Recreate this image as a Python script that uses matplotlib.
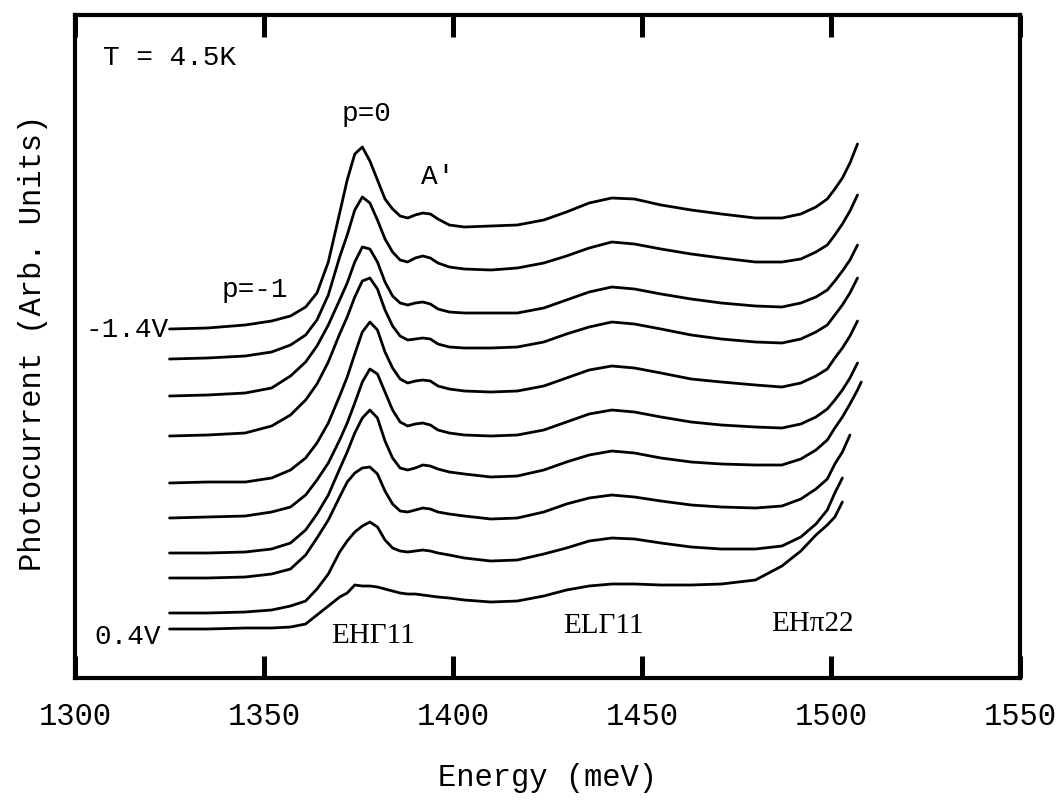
import numpy as np
import matplotlib
matplotlib.use('Agg')
import matplotlib.pyplot as plt

nan = np.nan

# photon energy grid (meV) shared by all spectra
energy = [1325, 1335, 1345, 1352, 1357, 1361, 1364, 1367, 1370, 1372, 1374, 1376,
          1378, 1380, 1382, 1384, 1386, 1388, 1390, 1392, 1394, 1396, 1399, 1403,
          1410, 1417, 1424, 1430, 1436, 1442, 1448, 1455, 1463, 1471, 1480, 1487,
          1492, 1496, 1499, 1501, 1503, 1505, 1507, 1508]

# photocurrent traces (arb. units, already offset), top = -1.4V ... bottom = 0.4V
pc_1 = [351, 352, 355, 359, 364, 373, 387, 418, 467, 500, 526, 533, 519, 500, 481, 471, 464, 462,
        465, 467, 466, 461, 455, 453, 454, 455, 460, 468, 477, 482, 481, 475, 470, 466, 462, 462,
        466, 473, 481, 491, 502, 517, 536, nan]
pc_2 = [321, 322, 324, 328, 335, 345, 360, 385, 423, 445, 470, 483, 477, 460, 441, 428, 420, 418,
        422, 424, 422, 417, 413, 411, 410, 412, 417, 424, 432, 438, 436, 431, 426, 422, 418, 418,
        421, 428, 435, 445, 456, 469, 485, nan]
pc_3 = [284, 285, 287, 292, 304, 318, 334, 355, 380, 397, 418, 433, 431, 418, 398, 384, 377, 375,
        377, 378, 376, 371, 368, 367, 367, 367, 372, 380, 388, 393, 391, 386, 381, 377, 374, 373,
        377, 383, 390, 399, 409, 420, 435, nan]
pc_4 = [244, 245, 247, 254, 265, 280, 296, 318, 346, 363, 383, 399, 402, 391, 370, 354, 344, 340,
        341, 342, 341, 336, 333, 332, 332, 333, 338, 346, 353, 358, 356, 351, 345, 341, 338, 337,
        341, 348, 355, 365, 375, 387, 402, nan]
pc_5 = [197, 198, 198, 202, 210, 222, 237, 257, 284, 303, 326, 348, 358, 350, 328, 312, 301, 297,
        299, 300, 299, 294, 291, 289, 288, 289, 294, 302, 310, 314, 312, 307, 301, 298, 295, 293,
        297, 304, 311, 322, 332, 344, 359, nan]
pc_6 = [162, 163, 164, 168, 173, 185, 200, 217, 240, 257, 277, 298, 311, 306, 288, 270, 258, 254,
        256, 257, 255, 250, 247, 245, 244, 245, 250, 258, 266, 270, 268, 263, 258, 255, 253, 252,
        256, 263, 271, 280, 290, 302, 317, nan]
pc_7 = [127, 127, 128, 131, 137, 150, 166, 185, 211, 228, 247, 262, 270, 262, 239, 222, 212, 210,
        212, 215, 214, 211, 208, 206, 203, 204, 210, 218, 225, 229, 227, 222, 218, 216, 215, 215,
        221, 230, 240, 252, 263, 276, 290, 298]
pc_8 = [102, 102, 103, 106, 111, 125, 142, 160, 183, 198, 207, 212, 213, 206, 189, 176, 169, 168,
        170, 172, 171, 168, 166, 164, 161, 162, 168, 176, 182, 185, 183, 179, 175, 173, 172, 174,
        181, 191, 201, 216, 228, 245, nan, nan]
pc_9 = [67, 67, 68, 70, 74, 79, 91, 106, 128, 139, 148, 154, 158, 153, 140, 132, 129, 128,
        129, 130, 129, 127, 125, 122, 119, 120, 126, 132, 139, 142, 141, 137, 133, 131, 131, 134,
        143, 156, 170, 187, 202, nan, nan, nan]
pc_10 = [51, 51, 52, 52, 53, 56, 65, 74, 83, 87, 95, 94, 94, 93, 91, 89, 87, 86,
         86, 85, 84, 83, 82, 80, 78, 79, 84, 90, 94, 96, 96, 95, 95, 96, 100, 114,
         129, 145, 155, 163, 178, nan, nan, nan]

spectra = [pc_1, pc_2, pc_3, pc_4, pc_5, pc_6, pc_7, pc_8, pc_9, pc_10]
x_ticks = [1300, 1350, 1400, 1450, 1500, 1550]

mono = 'Liberation Mono'
serif = 'Liberation Serif'

fig = plt.figure(figsize=(10.63, 8.02), dpi=100)
ax = fig.add_axes([0.0706, 0.1546, 0.889, 0.8267])

for pc in spectra:
    ax.plot(energy, pc, color='black', lw=2.0,
            solid_capstyle='round', solid_joinstyle='round')

ax.set_xlim(1300, 1550)
ax.set_ylim(2, 665)
ax.set_xticks(x_ticks)
ax.set_yticks([])
ax.tick_params(axis='x', direction='in', length=16, width=3.6, top=True,
               pad=17, labelsize=22)
for lab in ax.get_xticklabels():
    lab.set_fontfamily(mono)
for sp in ax.spines.values():
    sp.set_linewidth(3.0)

ax.set_xlabel('Energy (meV)', fontsize=22, fontfamily=mono)
ax.xaxis.set_label_coords(0.5, -0.128)
ax.set_ylabel('Photocurrent (Arb. Units)', fontsize=22, fontfamily=mono)
ax.yaxis.set_label_coords(-0.029, 0.505)

# annotations
ax.text(1307.4, 622, 'T = 4.5K', fontsize=20, fontfamily=mono, ha='left', va='center')
ax.text(1377.2, 566, 'p=0', fontsize=20, fontfamily=mono, ha='center', va='center')
ax.text(1396.0, 503, "A'", fontsize=20, fontfamily=mono, ha='center', va='center')
ax.text(1347.6, 390, 'p=-1', fontsize=20, fontfamily=mono, ha='center', va='center')
ax.text(1324.8, 350, '-1.4V', fontsize=20, fontfamily=mono, ha='right', va='center')
ax.text(1313.8, 43, '0.4V', fontsize=20, fontfamily=mono, ha='center', va='center')
ax.text(1378.8, 44, 'EH\u039311', fontsize=21, fontfamily=serif, ha='center', va='center')
ax.text(1439.7, 54, 'EL\u039311', fontsize=21, fontfamily=serif, ha='center', va='center')
ax.text(1495.0, 56, 'EH\u03c022', fontsize=21, fontfamily=serif, ha='center', va='center')

fig.savefig('out.png', dpi=100)
